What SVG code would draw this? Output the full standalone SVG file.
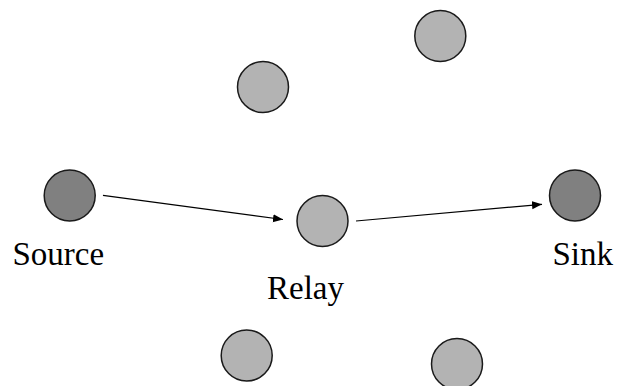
<svg xmlns="http://www.w3.org/2000/svg" width="618" height="386" viewBox="0 0 618 386">
  <style>
    .node { stroke: #1a1a1a; stroke-width: 1.5; }
    .endpoint { fill: #808080; }
    .peer { fill: #b3b3b3; }
    .label { font-family: "Liberation Serif", "DejaVu Serif", serif; font-size: 33px; fill: #000; }
    .link { stroke: #000; stroke-width: 1.2; fill: none; marker-end: url(#arrow); }
  </style>
  <defs>
    <marker id="arrow" viewBox="0 0 10 10" refX="10" refY="5" markerWidth="10" markerHeight="10" markerUnits="userSpaceOnUse" orient="auto">
      <path d="M0,1 L10,5 L0,9 Z" fill="#000"/>
    </marker>
  </defs>
  <rect width="618" height="386" fill="#fff"/>

  <g id="connectors">
    <line class="link" x1="103" y1="195.3" x2="283" y2="219.5"/>
    <line class="link" x1="356" y1="221" x2="542" y2="204.3"/>
  </g>

  <g id="source">
    <circle class="node endpoint" cx="69.7" cy="195.5" r="25.5"/>
    <text class="label" x="12.5" y="264.5">Source</text>
  </g>
  <g id="relay">
    <circle class="node peer" cx="322.5" cy="221" r="25.5"/>
    <text class="label" x="267" y="298.5">Relay</text>
  </g>
  <g id="sink">
    <circle class="node endpoint" cx="575" cy="195.5" r="25.5"/>
    <text class="label" x="552.5" y="264.5">Sink</text>
  </g>
  <g id="node-top-right">
    <circle class="node peer" cx="440.3" cy="36" r="25.5"/>
  </g>
  <g id="node-top-left">
    <circle class="node peer" cx="263" cy="87" r="25.5"/>
  </g>
  <g id="node-bottom-left">
    <circle class="node peer" cx="246.7" cy="355.5" r="25.5"/>
  </g>
  <g id="node-bottom-right">
    <circle class="node peer" cx="457" cy="364" r="25.5"/>
  </g>
</svg>
